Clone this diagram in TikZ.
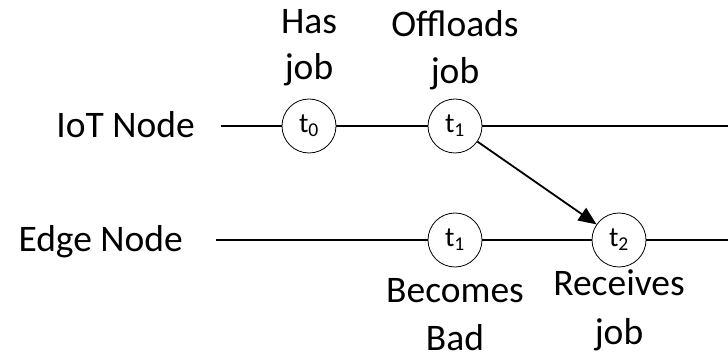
\documentclass[tikz,border=0pt]{standalone}
\usepackage{fontspec}
\setmainfont{Carlito}
\usetikzlibrary{arrows.meta}
\begin{document}
\begin{tikzpicture}[x=1pt,y=-1pt,
  label/.style={font=\fontsize{37.5}{45}\selectfont, anchor=base, inner sep=0pt, align=center},
  rowlabel/.style={font=\fontsize{37.5}{45}\selectfont, anchor=base east, inner sep=0pt},
  event/.style={circle, draw, line width=0.8pt, fill=white, minimum size=54pt, inner sep=0pt,
                font=\fontsize{28}{28}\selectfont},
  timeline/.style={line width=1.8pt},
  send/.style={line width=1.8pt, -{Triangle[length=18pt,width=15pt]}}]
\useasboundingbox (0,0) rectangle (728,363);

% row labels
\node[rowlabel] (iot) at (195,138) {IoT Node};
\node[rowlabel] (edge) at (183,252) {Edge Node};

% line ends
\coordinate (iotA) at (221,126);
\coordinate (iotB) at (728,126);
\coordinate (edgeA) at (216,240);
\coordinate (edgeB) at (728,240);

\draw[timeline] (iotA) -- (iotB);
\draw[timeline] (edgeA) -- (edgeB);

% events
\node[event] (t0) at (309,126) {t\textsubscript{0}};
\node[event] (t1a) at (455,126) {t\textsubscript{1}};
\node[event] (t1b) at (455,240) {t\textsubscript{1}};
\node[event] (t2) at (619,240) {t\textsubscript{2}};

\draw[send] (t1a) -- (t2);

% annotations
\node[label] (has) at (309,34) {Has};
\node[label] (hasjob) at (309,80) {job};
\node[label] (off) at (455,37) {Offloads};
\node[label] (offjob) at (455,84) {job};
\node[label] (bec) at (455,302) {Becomes};
\node[label] (bad) at (455,350) {Bad};
\node[label] (rec) at (619,295) {Receives};
\node[label] (recjob) at (619,344) {job};
\end{tikzpicture}
\end{document}
